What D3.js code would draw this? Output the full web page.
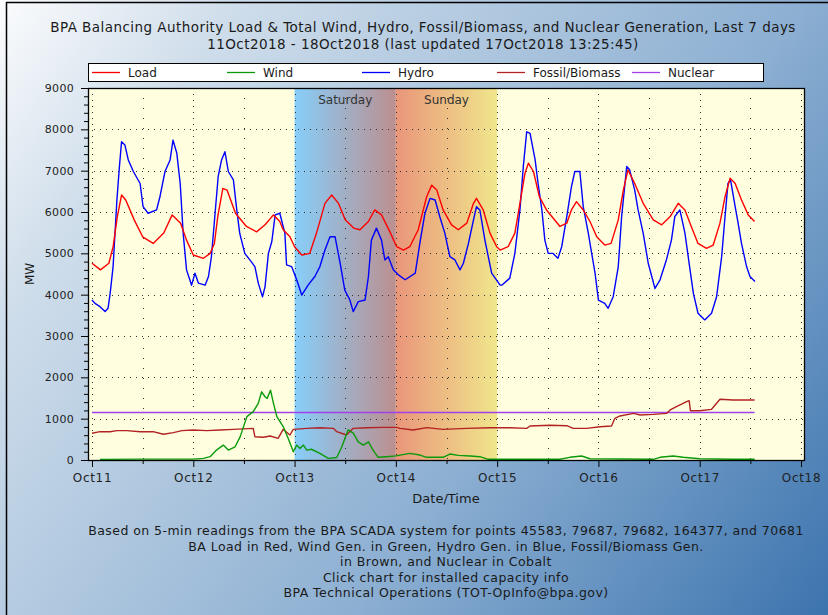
<!DOCTYPE html>
<html>
<head>
<meta charset="utf-8">
<script src="https://cdn.jsdelivr.net/npm/d3@7"></script>
<style>
  body { margin: 0; }
  svg { display: block; font-family: "DejaVu Sans", sans-serif; }
</style>
</head>
<body>
<div id="graph"></div>
<script>
// données : [heures depuis 11Oct 00:00, MW]
const titleLines = [
    "BPA Balancing Authority Load & Total Wind, Hydro, Fossil/Biomass, and Nuclear Generation, Last 7 days",
    "11Oct2018 - 18Oct2018 (last updated 17Oct2018 13:25:45)"
];
const footerLines = [
    "Based on 5-min readings from the BPA SCADA system for points 45583, 79687, 79682, 164377, and 70681",
    "BA Load in Red, Wind Gen. in Green, Hydro Gen. in Blue, Fossil/Biomass Gen.",
    "in Brown, and Nuclear in Cobalt",
    "Click chart for installed capacity info",
    "BPA Technical Operations (TOT-OpInfo@bpa.gov)"
];
const dayLabels = ["Oct11", "Oct12", "Oct13", "Oct14", "Oct15", "Oct16", "Oct17", "Oct18"];
const weekendDays = [{label: "Saturday", day: 2}, {label: "Sunday", day: 3}];
const seriesNames = ["Load", "Wind", "Hydro", "Fossil/Biomass", "Nuclear"];

const load = [[0,4760],[2,4600],[4,4760],[5,5160],[6,5890],[7,6410],[8,6290],[10,5810],[12,5400],
    [14.5,5240],[17,5490],[19,5930],[21,5730],[22.4,5320],[24,4960],[26.4,4880],[28,5000],[29,5240],
    [29.8,5890],[31,6570],[32,6530],[34,5970],[36.6,5650],[39,5520],[41,5690],[43,5930],[44.5,5770],
    [45.3,5570],[46.9,5400],[48,5160],[49.7,4960],[51.6,5000],[53.2,5490],[55.2,6210],[56.8,6410],
    [58.4,6210],[60,5810],[62,5610],[63.5,5570],[65.5,5770],[67,6050],[68.6,5930],[70.6,5520],
    [72.2,5160],[73.8,5080],[75.3,5160],[77.3,5570],[79.3,6370],[80.5,6650],[81.7,6530],[83.2,6050],
    [85.2,5690],[86.8,5570],[88.8,5730],[90.4,6210],[91.1,6330],[92.7,6050],[94.3,5490],[95.9,5160],
    [96.7,5080],[98.6,5160],[100.2,5490],[101.4,6210],[102.6,6940],[103.4,7180],[104.6,6980],[106,6370],
    [107.7,6050],[109.3,5850],[110.9,5650],[112.5,5730],[113.6,6050],[114.8,6250],[116.4,6050],
    [118,5770],[119.6,5400],[121.5,5200],[123,5240],[124.7,5810],[125.9,6530],[127,7020],[128.6,6690],
    [130.6,6210],[133,5810],[135,5690],[137,5890],[138.9,6210],[140.5,6050],[142,5650],[143.6,5240],
    [145.6,5120],[147.2,5200],[148.8,5730],[150,6370],[151.2,6820],[152.4,6690],[153.9,6290],
    [155.5,5930],[157,5770]];

const hydro = [[0,3870],[0.7,3790],[1.9,3710],[3.1,3590],[3.8,3670],[4.3,4030],[5,4680],[5.9,6290],
    [6.5,7100],[7,7700],[7.8,7620],[8.6,7260],[9.8,6980],[11.4,6690],[12.1,6130],[13.3,5970],[15.3,6050],
    [16.1,6370],[17.3,6980],[18.5,7260],[19.2,7740],[20.1,7420],[20.9,6690],[21.6,5490],[22.4,4600],
    [23.6,4230],[24.4,4520],[25.2,4280],[26.8,4230],[27.6,4440],[28.3,4920],[29.1,5890],[29.9,6860],
    [30.7,7260],[31.5,7460],[32.3,6980],[33.5,6780],[34.3,6050],[35,5490],[36.2,5000],[37.4,4840],
    [38.6,4680],[39.4,4280],[40.4,3950],[41,4190],[41.8,5000],[42.6,5280],[43.4,5930],[44.5,5970],
    [45.7,5490],[46.1,4720],[47.3,4680],[48.5,4360],[49.7,3990],[51.2,4230],[52.8,4440],[54,4680],
    [55.2,5080],[56.4,5400],[57.6,5400],[58.8,4760],[59.9,4110],[61.1,3870],[61.9,3590],[63.1,3830],
    [64.7,3870],[65.5,4440],[66.2,5320],[67.4,5610],[68.6,5320],[69.4,4840],[70.2,4920],[71.4,4600],
    [72.6,4480],[74.2,4360],[76.6,4520],[77.8,5320],[78.9,5970],[80.1,6330],[81.3,6290],[82.4,5890],
    [83.6,5490],[84.8,4920],[86,4840],[87.2,4600],[88,4760],[89.2,5240],[90.4,5810],[91.1,6130],
    [91.9,6050],[93.1,5320],[94.7,4520],[96.7,4230],[97.1,4230],[99,4400],[100.2,5000],[101.4,6050],
    [102.2,7100],[103,7940],[103.8,7900],[105,7260],[105.7,6690],[106.6,6050],[107.3,5320],[108.1,5000],
    [109.2,5000],[110.4,4880],[111.3,5160],[112.5,5890],[113.6,6610],[114.4,6980],[115.6,6980],
    [116.4,6130],[117.6,5490],[118.4,5000],[119.2,4520],[120,3870],[121.5,3790],[122.3,3670],
    [123.5,3950],[124.7,4680],[125.5,5890],[126.7,7100],[127.4,7020],[128.6,6530],[129.4,6050],
    [130.6,5490],[131.8,4760],[133.4,4150],[134.6,4360],[136.1,4840],[137.3,5320],[138.1,5890],
    [139.3,6050],[140.5,5490],[141.6,4680],[142.5,4030],[143.6,3550],[145.2,3390],[146.8,3550],
    [148,3950],[149.2,4920],[150,5890],[150.7,6690],[151.3,6780],[152.4,6130],[153.1,5730],[153.9,5240],
    [155.1,4680],[155.9,4440],[157.1,4320]];

const wind = [[1.9,15],[12,20],[24,20],[26.4,40],[28,80],[29.5,240],[31.1,360],[32.3,240],[33.9,320],
    [35.1,560],[36.7,1050],[38.2,1170],[39.4,1370],[40.2,1650],[41,1530],[41.5,1490],[42.3,1690],
    [43,1370],[43.8,1050],[45.3,810],[46.5,520],[47.7,200],[48.5,360],[49.3,280],[50.1,360],[50.9,240],
    [52,260],[54,160],[56,40],[58,60],[59.2,320],[60.7,730],[61.9,650],[63.1,440],[64.3,360],[65.5,440],
    [66.6,240],[67.8,65],[69.8,80],[72,100],[75.3,160],[77.7,120],[79.3,65],[83.2,65],[84.8,145],
    [86.8,113],[89.6,97],[91.9,80],[93.9,17],[96.7,17],[110.9,17],[113.2,65],[116,97],[118,31],
    [133,17],[134.6,65],[137.7,97],[140.1,65],[144,31],[151.9,17],[157,17]];

const fossil = [[0,646],[1.9,685],[4.3,685],[5.9,710],[8.2,710],[11.4,685],[14.5,685],[16.9,622],
    [19.3,661],[21.3,710],[24,726],[27.2,710],[30.3,726],[33.5,742],[38.2,766],[38.6,564],[40.6,549],
    [42.2,581],[44.1,525],[45.3,742],[46.9,605],[47.7,742],[50.9,766],[54,782],[57.2,766],[58,685],
    [60.3,605],[61.9,766],[65.1,782],[69,790],[72.2,790],[73,766],[76.1,726],[79.3,782],[83.2,742],
    [88.8,766],[94.3,782],[99,782],[103,766],[103.8,822],[108.5,839],[112.5,830],[114,766],[117.2,766],
    [120.4,806],[123.1,822],[123.9,1008],[125.1,1065],[128.3,1129],[129.9,1089],[133,1105],[136.2,1129],
    [137,1210],[138.5,1290],[140.9,1411],[141.5,1436],[141.8,1193],[144,1193],[146.8,1226],[148.8,1468],
    [151.9,1452],[157,1452]];

const nuclear = [[0,1150],[157,1150]];

const seriesData = [load, wind, hydro, fossil, nuclear];
const seriesColors = ["#ff0000", "#0a9a0a", "#0000ff", "#b22222", "#a040e8"];

// dimensions
var totalWidth = 828, totalHeight = 615,
    frame = {left: 88, right: 804, top: 88, bottom: 460};

var x = d3.scaleLinear().domain([0, 168]).range([92, 801]),
    y = d3.scaleLinear().domain([0, 9000]).range([frame.bottom, frame.top]);

var svg = d3.select("#graph").append("svg")
    .attr("width", totalWidth)
    .attr("height", totalHeight);

var defs = svg.append("defs");
var bg = defs.append("linearGradient").attr("id", "bg")
    .attr("gradientUnits", "userSpaceOnUse")
    .attr("x1", 0).attr("y1", 0).attr("x2", totalWidth).attr("y2", totalHeight);
[[0, "#fbfcfd"], [0.18, "#d0deeb"], [0.63, "#8cafd2"], [1, "#3c74ae"]].forEach(function(s) {
    bg.append("stop").attr("offset", s[0]).attr("stop-color", s[1]);
});
var weekendColors = [["#87cefa", "#bc8f8f"], ["#e9967a", "#f0e68c"]];
weekendColors.forEach(function(c, i) {
    var g = defs.append("linearGradient").attr("id", "we" + i);
    g.append("stop").attr("offset", 0).attr("stop-color", c[0]);
    g.append("stop").attr("offset", 1).attr("stop-color", c[1]);
});

// fond
svg.append("rect").attr("width", totalWidth).attr("height", totalHeight).attr("fill", "url(#bg)");
svg.append("rect")
    .attr("x", 6.5).attr("y", 2.5)
    .attr("width", totalWidth).attr("height", totalHeight)
    .attr("fill", "none").attr("stroke", "#000").attr("stroke-width", 1.5);

// titre
svg.append("g").selectAll("text").data(titleLines).enter().append("text")
    .attr("x", 423)
    .attr("y", function(d, i) { return 32 + i * 17; })
    .attr("text-anchor", "middle")
    .attr("font-size", "13.5px")
    .attr("letter-spacing", "0.45px")
    .attr("fill", "#1a1a1a")
    .text(function(d) { return d; });

// légende
var legend = svg.append("g");
legend.append("rect")
    .attr("x", 88.5).attr("y", 63.5).attr("width", 675).attr("height", 18)
    .attr("fill", "#fff").attr("stroke", "#000");
seriesNames.forEach(function(name, i) {
    var lx = 92 + i * 135;
    legend.append("line")
        .attr("x1", lx).attr("x2", lx + 28)
        .attr("y1", 72.5).attr("y2", 72.5)
        .attr("stroke", seriesColors[i]).attr("stroke-width", 1.3);
    legend.append("text")
        .attr("x", lx + 36).attr("y", 77)
        .attr("font-size", "12px").attr("fill", "#1a1a1a")
        .text(name);
});

// zone du graphique
svg.append("rect")
    .attr("x", frame.left).attr("y", frame.top)
    .attr("width", frame.right - frame.left).attr("height", frame.bottom - frame.top)
    .attr("fill", "#ffffe0");

weekendDays.forEach(function(w, i) {
    svg.append("rect")
        .attr("x", x(w.day * 24)).attr("y", frame.top)
        .attr("width", x(w.day * 24 + 24) - x(w.day * 24))
        .attr("height", frame.bottom - frame.top)
        .attr("fill", "url(#we" + i + ")");
    svg.append("text")
        .attr("x", x(w.day * 24 + 12)).attr("y", 104)
        .attr("text-anchor", "middle")
        .attr("font-size", "12px").attr("fill", "#333")
        .text(w.label);
});

// grilles
var grid = svg.append("g").attr("stroke", "#333").attr("stroke-width", 1);
grid.selectAll(".h").data(d3.range(1000, 9000, 1000)).enter().append("line")
    .attr("x1", frame.left).attr("x2", frame.right)
    .attr("y1", function(d) { return Math.round(y(d)) + 0.5; })
    .attr("y2", function(d) { return Math.round(y(d)) + 0.5; })
    .attr("stroke-dasharray", "1,5");
grid.selectAll(".v").data(d3.range(0, 169, 24)).enter().append("line")
    .attr("x1", function(d) { return Math.round(x(d)) + 0.5; })
    .attr("x2", function(d) { return Math.round(x(d)) + 0.5; })
    .attr("y1", frame.top).attr("y2", frame.bottom)
    .attr("stroke-dasharray", "1,5");
grid.selectAll(".vm").data(d3.range(12, 168, 24)).enter().append("line")
    .attr("x1", function(d) { return Math.round(x(d)) + 0.5; })
    .attr("x2", function(d) { return Math.round(x(d)) + 0.5; })
    .attr("y1", frame.top).attr("y2", frame.bottom)
    .attr("stroke-dasharray", "1,9");

// séries
var ligne = d3.line()
    .x(function(d) { return x(d[0]); })
    .y(function(d) { return y(d[1]); });
[4, 3, 1, 2, 0].forEach(function(i) {
    svg.append("path")
        .datum(seriesData[i])
        .attr("fill", "none")
        .attr("stroke", seriesColors[i])
        .attr("stroke-width", 1.4)
        .attr("stroke-linejoin", "round")
        .attr("d", ligne);
});

// cadre
svg.append("rect")
    .attr("x", frame.left + 0.5).attr("y", frame.top + 0.5)
    .attr("width", frame.right - frame.left).attr("height", frame.bottom - frame.top)
    .attr("fill", "none").attr("stroke", "#000").attr("stroke-width", 1.3);

// axes
svg.append("g")
    .attr("transform", "translate(" + frame.left + ",0)")
    .call(d3.axisLeft(y).tickValues(d3.range(0, 9001, 1000)).tickSize(7).tickPadding(7).tickFormat(d3.format("d")));
svg.append("g")
    .attr("transform", "translate(" + frame.left + ",0)")
    .call(d3.axisLeft(y).tickValues(d3.range(0, 9000, 200).filter(function(v) { return v % 1000; })).tickSize(4).tickFormat(""));
var axisX = svg.append("g")
    .attr("transform", "translate(0," + frame.bottom + ")")
    .call(d3.axisBottom(x).tickValues(d3.range(0, 169, 24)).tickSize(7).tickPadding(6)
        .tickFormat(function(d, i) { return dayLabels[i]; }));
svg.append("g")
    .attr("transform", "translate(0," + frame.bottom + ")")
    .call(d3.axisBottom(x).tickValues(d3.range(12, 168, 24)).tickSize(4).tickFormat(""));
svg.selectAll(".domain").remove();
svg.selectAll(".tick text")
    .attr("font-family", "DejaVu Sans, sans-serif")
    .attr("font-size", "11px")
    .attr("letter-spacing", "0.3px")
    .attr("fill", "#222");
axisX.selectAll(".tick text").attr("font-size", "12px").attr("letter-spacing", "0.7px");

// titres des axes
svg.append("text")
    .attr("transform", "translate(34,274) rotate(-90)")
    .attr("text-anchor", "middle")
    .attr("font-size", "12px").attr("fill", "#1a1a1a")
    .text("MW");
svg.append("text")
    .attr("x", 446).attr("y", 503)
    .attr("text-anchor", "middle")
    .attr("font-size", "13px").attr("fill", "#1a1a1a")
    .text("Date/Time");

// notes du bas
svg.append("g").selectAll("text").data(footerLines).enter().append("text")
    .attr("x", 446)
    .attr("y", function(d, i) { return 535 + i * 15.6; })
    .attr("text-anchor", "middle")
    .attr("font-size", "12.5px")
    .attr("letter-spacing", "0.45px")
    .attr("fill", "#1a1a1a")
    .text(function(d) { return d; });
</script>
</body>
</html>
